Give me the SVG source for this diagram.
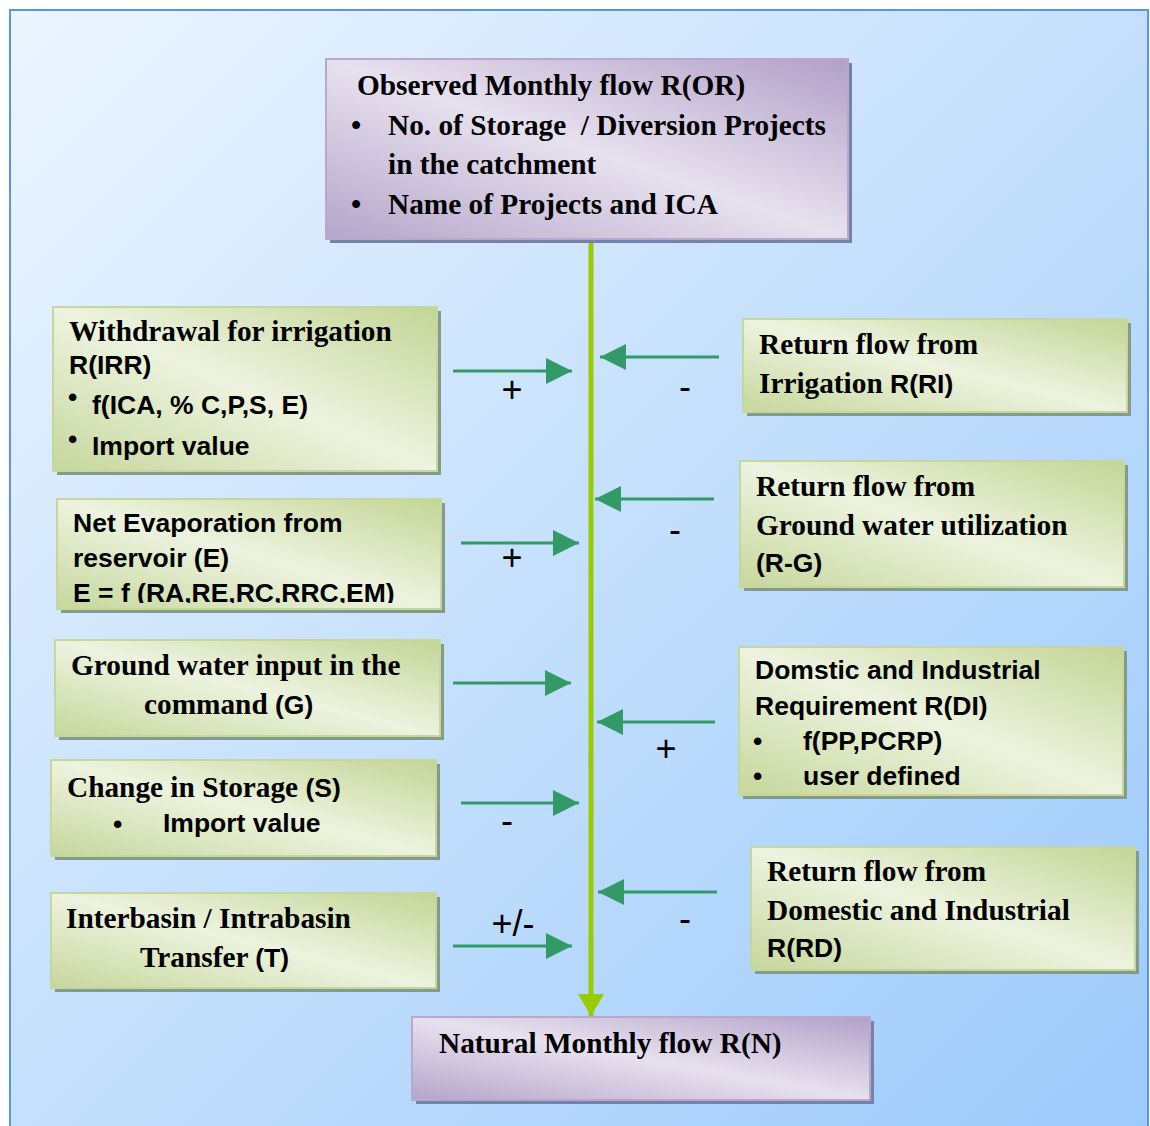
<svg xmlns="http://www.w3.org/2000/svg" width="1150" height="1126" viewBox="0 0 1150 1126">
<defs>
<linearGradient id="bg" x1="0" y1="0" x2="1" y2="1">
<stop offset="0" stop-color="#ecf5fe"/>
<stop offset="1" stop-color="#9ccafb"/>
</linearGradient>
<linearGradient id="gG" x1="1" y1="0" x2="0" y2="1">
<stop offset="0" stop-color="#c3d595"/>
<stop offset="0.5" stop-color="#edf3df"/>
<stop offset="1" stop-color="#c6d79c"/>
</linearGradient>
<linearGradient id="gP" x1="1" y1="0" x2="0" y2="1">
<stop offset="0" stop-color="#b2a0c8"/>
<stop offset="0.5" stop-color="#e7e1ee"/>
<stop offset="1" stop-color="#b5a5ca"/>
</linearGradient>
<marker id="ah" markerUnits="userSpaceOnUse" markerWidth="26" markerHeight="26" refX="26" refY="13" orient="auto">
<path d="M0,0 L26,13 L0,26 Z" fill="#339966"/>
</marker>
<marker id="vh" markerUnits="userSpaceOnUse" markerWidth="26" markerHeight="26" refX="22" refY="13" orient="auto">
<path d="M0,0 L22,13 L0,26 Z" fill="#99cc00"/>
</marker>
<clipPath id="clipE"><rect x="57" y="499" width="384" height="104"/></clipPath>
</defs>
<style>
.gbox{fill:url(#gG);stroke:#c4d79c;stroke-width:2}
.gsh{fill:#869a89}
.pbox{fill:url(#gP);stroke:#b9a8cc;stroke-width:2}
.psh{fill:#7583aa}
.tr{font-family:"Liberation Serif","Times New Roman",serif;font-weight:bold;font-size:29.3px;fill:#000}
.ar{font-family:"Liberation Sans",Arial,sans-serif;font-weight:bold;font-size:26.5px;fill:#000}
.sg{font-family:"Liberation Sans",Arial,sans-serif;font-size:36px;fill:#000;text-anchor:middle}
.conn{stroke:#339966;stroke-width:3;fill:none}
</style>

<rect x="10" y="10" width="1138" height="1125" fill="url(#bg)" stroke="#5a96dc" stroke-width="2"/>

<g id="connectors">
<line x1="591" y1="241" x2="591" y2="1016" stroke="#99cc00" stroke-width="5" marker-end="url(#vh)"/>
<line class="conn" x1="453" y1="371" x2="572" y2="371" marker-end="url(#ah)"/>
<line class="conn" x1="461" y1="543" x2="579" y2="543" marker-end="url(#ah)"/>
<line class="conn" x1="453" y1="683" x2="571" y2="683" marker-end="url(#ah)"/>
<line class="conn" x1="461" y1="803" x2="579" y2="803" marker-end="url(#ah)"/>
<line class="conn" x1="453" y1="946" x2="572" y2="946" marker-end="url(#ah)"/>
<line class="conn" x1="719" y1="357" x2="600" y2="357" marker-end="url(#ah)"/>
<line class="conn" x1="714" y1="499" x2="595" y2="499" marker-end="url(#ah)"/>
<line class="conn" x1="715" y1="722" x2="597" y2="722" marker-end="url(#ah)"/>
<line class="conn" x1="717" y1="892" x2="598" y2="892" marker-end="url(#ah)"/>
<text class="sg" x="512" y="402">+</text>
<text class="sg" x="685" y="399">-</text>
<text class="sg" x="512" y="570">+</text>
<text class="sg" x="675" y="542">-</text>
<text class="sg" x="666" y="761">+</text>
<text class="sg" x="507" y="833">-</text>
<text class="sg" x="513" y="936">+/-</text>
<text class="sg" x="685" y="931">-</text>
</g>

<g id="observed">
<rect class="psh" x="330" y="63" width="522" height="180"/>
<rect class="pbox" x="326" y="59" width="522" height="180"/>
<text class="tr" x="357" y="95">Observed Monthly flow R(OR)</text>
<text class="tr" x="351" y="135">•</text>
<text class="tr" x="388" y="135" xml:space="preserve">No. of Storage  / Diversion Projects</text>
<text class="tr" x="388" y="174">in the catchment</text>
<text class="tr" x="351" y="214">•</text>
<text class="tr" x="388" y="214">Name of Projects and ICA</text>
</g>

<g id="withdrawal">
<rect class="gsh" x="57" y="311" width="384" height="164"/>
<rect class="gbox" x="53" y="307" width="384" height="164"/>
<text class="tr" x="69" y="341">Withdrawal for irrigation</text>
<text class="ar" x="69" y="374">R(IRR)</text>
<text class="ar" x="68" y="406">•</text>
<text class="ar" x="92" y="414">f(ICA, % C,P,S, E)</text>
<text class="ar" x="68" y="448">•</text>
<text class="ar" x="92" y="455">Import value</text>
</g>

<g id="evaporation">
<rect class="gsh" x="61" y="503" width="384" height="110"/>
<rect class="gbox" x="57" y="499" width="384" height="110"/>
<text class="ar" x="73" y="532">Net Evaporation from</text>
<text class="ar" x="73" y="567">reservoir (E)</text>
<text class="ar" x="73" y="602" clip-path="url(#clipE)">E = f (RA,RE,RC,RRC,EM)</text>
</g>

<g id="groundwater">
<rect class="gsh" x="59" y="644" width="385" height="96"/>
<rect class="gbox" x="55" y="640" width="385" height="96"/>
<text class="tr" x="71" y="675">Ground water input in the</text>
<text x="144" y="714"><tspan class="tr">command </tspan><tspan class="ar">(G)</tspan></text>
</g>

<g id="storage">
<rect class="gsh" x="55" y="764" width="385" height="96"/>
<rect class="gbox" x="51" y="760" width="385" height="96"/>
<text x="67" y="797"><tspan class="tr">Change in Storage </tspan><tspan class="ar">(S)</tspan></text>
<text class="ar" x="113" y="833">•</text>
<text class="ar" x="163" y="832">Import value</text>
</g>

<g id="transfer">
<rect class="gsh" x="55" y="897" width="385" height="95"/>
<rect class="gbox" x="51" y="893" width="385" height="95"/>
<text class="tr" x="66" y="928">Interbasin / Intrabasin</text>
<text x="140" y="967"><tspan class="tr">Transfer </tspan><tspan class="ar">(T)</tspan></text>
</g>

<g id="return-irrigation">
<rect class="gsh" x="747" y="323" width="384" height="93"/>
<rect class="gbox" x="743" y="319" width="384" height="93"/>
<text class="tr" x="759" y="354">Return flow from</text>
<text x="759" y="393"><tspan class="tr">Irrigation </tspan><tspan class="ar">R(RI)</tspan></text>
</g>

<g id="return-groundwater">
<rect class="gsh" x="744" y="465" width="384" height="126"/>
<rect class="gbox" x="740" y="461" width="384" height="126"/>
<text class="tr" x="756" y="496">Return flow from</text>
<text class="tr" x="756" y="535">Ground water utilization</text>
<text class="ar" x="756" y="572">(R-G)</text>
</g>

<g id="domestic-requirement">
<rect class="gsh" x="743" y="651" width="384" height="148"/>
<rect class="gbox" x="739" y="647" width="384" height="148"/>
<text class="ar" x="755" y="679">Domstic and Industrial</text>
<text class="ar" x="755" y="715">Requirement R(DI)</text>
<text class="ar" x="753" y="750">•</text>
<text class="ar" x="803" y="750">f(PP,PCRP)</text>
<text class="ar" x="753" y="785">•</text>
<text class="ar" x="803" y="785">user defined</text>
</g>

<g id="return-domestic">
<rect class="gsh" x="755" y="851" width="384" height="123"/>
<rect class="gbox" x="751" y="847" width="384" height="123"/>
<text class="tr" x="767" y="881">Return flow from</text>
<text class="tr" x="767" y="920">Domestic and Industrial</text>
<text class="ar" x="767" y="957">R(RD)</text>
</g>

<g id="natural">
<rect class="psh" x="416" y="1021" width="458" height="83"/>
<rect class="pbox" x="412" y="1017" width="458" height="83"/>
<text class="tr" x="439" y="1053">Natural Monthly flow R(N)</text>
</g>
</svg>
